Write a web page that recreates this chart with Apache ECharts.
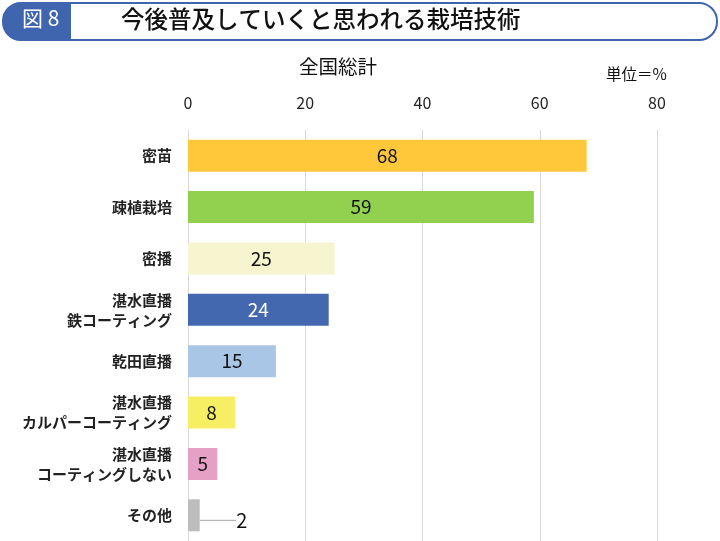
<!DOCTYPE html>
<html><head><meta charset="utf-8">
<script src="https://cdn.jsdelivr.net/npm/echarts@6/dist/echarts.min.js"></script>
<style>html,body{margin:0;padding:0;background:#fff}#c{width:720px;height:541px}</style>
</head><body><div id="c"></div>
<script>
const categories = ['密苗','疎植栽培','密播','湛水直播\n鉄コーティング','乾田直播','湛水直播\nカルパーコーティング','湛水直播\nコーティングしない','その他'];
const values = [68,59,25,24,15,8,5,2];
const barColors = ['#FFC83A','#92D050','#F7F5CF','#4468B0','#A9C6E7','#F7EF63','#E5A0C5','#BDBDBD'];
const labelColors = ['#111','#111','#111','#fff','#111','#111','#111','#111'];
const tickValues = [0,20,40,60,80];
const titleText = '今後普及していくと思われる栽培技術';
const figLabel = '図 8';
const subTitle = '全国総計';
const unitText = '単位＝%';

const FONT = '"Noto Sans CJK JP","Noto Sans",sans-serif';
const chart = echarts.init(document.getElementById('c'));
chart.setOption({
  animation:false,
  backgroundColor:'#fff',
  textStyle:{fontFamily:FONT},
  graphic:[
    {type:'rect',shape:{x:3,y:3,width:714,height:37,r:18},style:{fill:'#fff',stroke:'#3F65AE',lineWidth:2}},
    {type:'rect',shape:{x:3,y:3,width:68,height:37,r:[18,0,0,18]},style:{fill:'#3F65AE'}},
    {type:'text',left:22,top:8,style:{text:figLabel,fill:'#fff',font:'21px '+FONT}},
    {type:'text',left:121,top:7,style:{text:titleText,fill:'#111',font:'500 23.5px '+FONT}},
    {type:'text',left:299,top:57,style:{text:subTitle,fill:'#111',font:'19.5px '+FONT}},
    {type:'text',left:606,top:66,style:{text:unitText,fill:'#111',font:'15.5px '+FONT}}
  ],
  grid:{left:188,right:63,top:130,height:412,containLabel:false},
  xAxis:{type:'value',position:'top',min:0,max:80,interval:20,
    axisLabel:{fontSize:16,color:'#222',margin:19,customValues:tickValues},
    axisLine:{show:false},axisTick:{show:false},
    splitLine:{lineStyle:{color:'#D9D9D9',width:1}}},
  yAxis:{type:'category',inverse:true,data:categories,
    axisLine:{show:true,lineStyle:{color:'#D9D9D9'}},axisTick:{show:false},
    axisLabel:{fontSize:15,fontWeight:'bold',color:'#222',margin:16,lineHeight:20,align:'right'}},
  series:[{
    type:'bar',barWidth:32,
    data:values.map((v,i)=>({value:v,itemStyle:{color:barColors[i]},
      label: i===7?{color:labelColors[i],fontSize:20}:{color:labelColors[i]},
      labelLine: i===7?{show:true,lineStyle:{color:'#A6A6A6',width:1}}:{show:false}})),
    label:{show:true,position:'inside',fontSize:19,fontFamily:FONT},
    labelLayout:function(p){ if(p.dataIndex===7){return {x:p.rect.x+p.rect.width+42,y:p.rect.y+p.rect.height/2+5,align:'center',verticalAlign:'middle'};} return {}; }
  }]
});
</script></body></html>
